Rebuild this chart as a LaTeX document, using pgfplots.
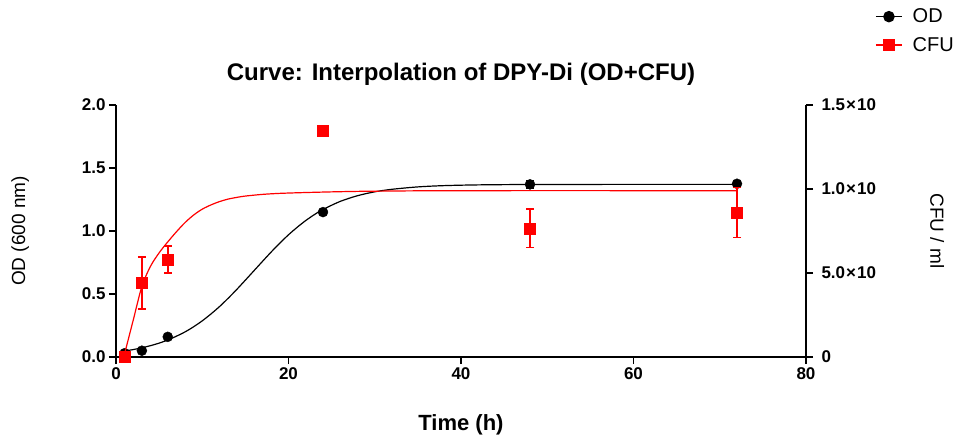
\documentclass[border=0pt]{standalone}
\usepackage{fontspec}
\setmainfont{Liberation Sans}
\usepackage{pgfplots}
\pgfplotsset{compat=1.18}

\definecolor{cfured}{RGB}{255,0,0}

\pgfplotsset{
  prism/.style={
    at={(0,0)}, anchor=south west,
    scale only axis, width=690pt, height=252pt,
    xmin=0, xmax=80, clip=false,
    tick align=outside, major tick length=7pt,
    tick style={line width=1.6pt, black},
    axis line style={line width=1.6pt},
    tick label style={font=\fontsize{17}{20}\selectfont\bfseries},
    label style={font=\fontsize{19}{22}\selectfont},
    /pgf/number format/assume math mode=true,
  },
}

\begin{document}
\begin{tikzpicture}
\useasboundingbox (-116pt,-84pt) rectangle (849pt,357pt);

% OD, left axis
\begin{axis}[prism,
  ymin=0, ymax=2,
  axis x line*=bottom, axis y line*=left,
  xtick={0,20,40,60,80},
  ytick={0,0.5,1,1.5,2},
  yticklabel style={/pgf/number format/.cd, fixed, fixed zerofill, precision=1},
  xlabel={Time (h)},
  xlabel style={at={(axis description cs:0.5,-0.27)}, anchor=center,
    font=\fontsize{22}{25}\selectfont\bfseries},
  ylabel={OD (600 nm)},
  ylabel style={at={(axis description cs:-0.139,0.5)}, anchor=center},
  title={Curve: Interpolation of DPY-Di (OD+CFU)},
  title style={at={(axis description cs:0.5,1.10)}, anchor=center,
    font=\fontsize{24}{28}\selectfont\bfseries},
]
% fitted curve
\addplot[black, line width=1.2pt, smooth, forget plot] coordinates {
  (1,0.048) (2,0.059) (3,0.073) (4,0.090) (5,0.110) (6,0.135) (7,0.165)
  (8,0.199) (9,0.240) (10,0.287) (11,0.341) (12,0.400) (13,0.466)
  (14,0.536) (15,0.610) (16,0.685) (17,0.760) (18,0.834) (19,0.904)
  (20,0.970) (21,1.029) (22,1.083) (23,1.130) (24,1.171) (26,1.235)
  (28,1.280) (30,1.311) (32,1.331) (35,1.350) (38,1.360) (42,1.366)
  (48,1.369) (60,1.370) (72,1.370)
};
% measured OD
\addplot[black, only marks, mark=*, mark size=5pt, forget plot,
  error bars/.cd, y dir=both, y explicit,
  error bar style={line width=1.5pt, black},
  error mark options={rotate=90, mark size=4pt, line width=1.5pt, black}]
  coordinates {
  (1,0.03) +- (0,0.01)
  (3,0.05) +- (0,0.01)
  (6,0.16) +- (0,0.02)
  (24,1.15) +- (0,0.01)
  (48,1.37) +- (0,0.03)
  (72,1.375) +- (0,0.01)
};
\end{axis}

% CFU, right axis
\begin{axis}[prism,
  ymin=0, ymax=1.5,
  axis x line=none, axis y line*=right,
  ytick={0,0.5,1,1.5},
  yticklabels={0,5.0\kern1pt×\kern1pt10,1.0\kern1pt×\kern1pt10,1.5\kern1pt×\kern1pt10},
  yticklabel style={xshift=5pt},
  ylabel={CFU / ml},
  ylabel style={at={(axis description cs:1.19,0.5)}, anchor=center, rotate=180},
  legend style={at={(axis description cs:1.10,1.39)}, anchor=north west,
    draw=none, fill=none, font=\fontsize{20}{23}\selectfont,
    row sep=9pt, cells={anchor=west}, inner sep=0pt,
    nodes={inner xsep=10pt}},
  legend image code/.code={
    \draw[mark repeat=2, mark phase=2] plot coordinates {(0pt,0pt) (13pt,0pt) (26pt,0pt)};},
]
\addlegendimage{black, line width=1.5pt, mark=*, mark size=5pt}
\addlegendentry{OD}
\addlegendimage{cfured, line width=1.5pt, mark=square*, mark size=5pt}
\addlegendentry{CFU}
% fitted curve
\addplot[cfured, line width=1.2pt, smooth, forget plot] coordinates {
  (0.9,0) (2,0.22) (3,0.42) (4,0.54) (5,0.62) (6,0.685) (7,0.745)
  (8,0.80) (9,0.845) (10,0.88) (11,0.905) (12,0.925) (13,0.94) (14,0.95)
  (15,0.958) (17,0.968) (19,0.974) (22,0.979) (26,0.984) (30,0.987)
  (40,0.99) (72,0.99)
};
% measured CFU
\addplot[cfured, only marks, mark=square*, mark size=5.5pt, forget plot,
  error bars/.cd, y dir=both, y explicit,
  error bar style={line width=1.5pt, cfured},
  error mark options={rotate=90, mark size=4pt, line width=1.5pt, cfured}]
  coordinates {
  (1,0.0) +- (0,0)
  (3,0.44) +- (0,0.155)
  (6,0.58) +- (0,0.08)
  (24,1.345) +- (0,0)
  (48,0.766) +- (0,0.115)
  (72,0.86) +- (0,0.15)
};
\end{axis}
\end{tikzpicture}
\end{document}
